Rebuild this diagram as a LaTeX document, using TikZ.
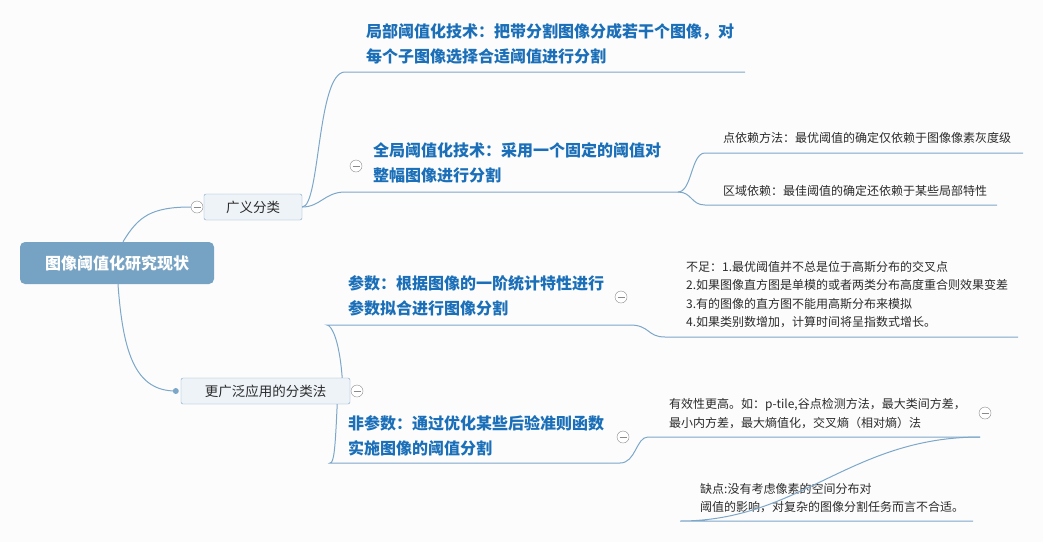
\documentclass[tikz,border=0pt]{standalone}
\usepackage{fontspec}
\setmainfont{Noto Sans CJK SC}
\usepackage{tikz}
\usetikzlibrary{positioning}

\definecolor{linecol}{HTML}{7DA7C9}
\definecolor{rootcol}{HTML}{76A3C3}
\definecolor{titlecol}{HTML}{1A6FB8}
\definecolor{boxfill}{HTML}{EEF3F8}
\definecolor{boxline}{HTML}{7FA6C6}
\definecolor{textcol}{HTML}{2B2B2B}
\definecolor{foldcol}{HTML}{8A8A8A}

\tikzset{
  rootnode/.style={rounded corners=5pt, fill=rootcol, text=white,
    font=\fontsize{16}{18}\selectfont\bfseries,
    minimum width=194pt, minimum height=42pt, inner sep=0pt},
  subnode/.style={rounded corners=2pt, draw=boxline, fill=boxfill, text=textcol,
    font=\fontsize{13.5}{15}\selectfont, minimum height=26pt, inner sep=0pt},
  topic/.style={text=titlecol, font=\fontsize{16}{25}\selectfont\bfseries,
    align=left, anchor=west, inner sep=0pt},
  note/.style={text=textcol, font=\fontsize{12}{18.5}\selectfont,
    align=left, anchor=west, inner sep=0pt},
  fold/.style={circle, draw=foldcol, fill=white, minimum size=12pt, inner sep=0pt,
    path picture={\draw[foldcol, line width=0.8pt]
      ([xshift=-3.5pt]path picture bounding box.center) --
      ([xshift=3.5pt]path picture bounding box.center);}},
  link/.style={draw=linecol, line width=1pt}
}

\begin{document}
\begin{tikzpicture}[x=1pt, y=-1pt]
  % page
  \fill[white!98!gray] (0,0) rectangle (1043,542);
  \useasboundingbox (0,0) rectangle (1043,542);

  % central topic and the two main branches
  \node[rootnode] (root) at (117,263) {图像阈值化研究现状};
  \node[subnode, minimum width=98pt] (wide) at (253,207) {广义分类};
  \node[subnode, minimum width=169pt] (apply) at (265.5,391) {更广泛应用的分类法};

  % topics
  \node[topic] (local) at (366,43.5) {局部阈值化技术：把带分割图像分成若干个图像，对\\每个子图像选择合适阈值进行分割};
  \node[topic] (global) at (373,162.5) {全局阈值化技术：采用一个固定的阈值对\\整幅图像进行分割};
  \node[topic] (param) at (348,295.5) {参数：根据图像的一阶统计特性进行\\参数拟合进行图像分割};
  \node[topic] (nonparam) at (348,435.5) {非参数：通过优化某些后验准则函数\\实施图像的阈值分割};

  % notes
  \node[note] (point) at (723,138) {点依赖方法：最优阈值的确定仅依赖于图像像素灰度级};
  \node[note] (region) at (723,191) {区域依赖：最佳阈值的确定还依赖于某些局部特性};
  \node[note] (lack) at (686,294.5) {不足：1.最优阈值并不总是位于高斯分布的交叉点\\2.如果图像直方图是单模的或者两类分布高度重合则效果变差\\3.有的图像的直方图不能用高斯分布来模拟\\4.如果类别数增加，计算时间将呈指数式增长。};
  \node[note, font=\fontsize{12}{19}\selectfont] (effect) at (669,413.5) {有效性更高。如：p-tile,谷点检测方法，最大类间方差，\\最小内方差，最大熵值化，交叉熵（相对熵）法};
  \node[note, font=\fontsize{12}{18}\selectfont] (flaw) at (700,498) {缺点:没有考虑像素的空间分布对\\阈值的影响，对复杂的图像分割任务而言不合适。};

  % underline ends
  \coordinate (localA) at (345,72);    \coordinate (localB) at (745,72);
  \coordinate (globalA) at (345,192);  \coordinate (globalB) at (678,192);
  \coordinate (pointA) at (705,153);   \coordinate (pointB) at (1023,153);
  \coordinate (regionA) at (705,205);  \coordinate (regionB) at (997,205);
  \coordinate (paramA) at (327,325);   \coordinate (paramB) at (630,325);
  \coordinate (lackA) at (665,337);    \coordinate (lackB) at (1018,337);
  \coordinate (nonA) at (330,463);     \coordinate (nonB) at (620,463);
  \coordinate (effA) at (648,437);     \coordinate (effB) at (980,437);
  \coordinate (flawA) at (680,521);    \coordinate (flawB) at (973,521);

  % fold markers
  \node[fold] (foldwide) at (197,207) {};
  \node[fold] (foldapply) at (357,391) {};
  \node[fold] (foldglobal) at (356,166) {};
  \node[fold] (foldparam) at (621,297) {};
  \node[fold] (foldnon) at (623,437) {};
  \node[fold] (foldeff) at (985,413) {};

  % root to branches
  \draw[link] ([xshift=6pt]root.north) .. controls +(15,-25) and +(-40,0) .. (foldwide.west);
  \draw[link] ([xshift=1pt]root.south) .. controls +(5,70) and +(-40,0) .. ([xshift=-5pt]apply.west);
  \fill[linecol] ([xshift=-5pt]apply.west) circle[radius=3pt];

  % upper branch
  \draw[link] (wide.east) .. controls +(18,0) and +(-28,0) .. (localA) -- (localB);
  \draw[link] (wide.east) .. controls +(18,0) and +(-20,0) .. (globalA) -- (globalB);
  \draw[link] (globalB) .. controls +(14,0) and +(-14,0) .. (pointA) -- (pointB);
  \draw[link] (globalB) .. controls +(14,0) and +(-14,0) .. (regionA) -- (regionB);

  % lower branch
  \draw[link] ([xshift=-8pt]apply.north east) .. controls +(-3,-40) and +(4,0) .. (paramA) -- (paramB);
  \draw[link] ([xshift=-13pt]apply.south east) .. controls +(-2,45) and +(4,0) .. (nonA) -- (nonB);
  \draw[link] (paramB) .. controls +(20,0) and +(-18,0) .. (lackA) -- (lackB);
  \draw[link] (nonB) .. controls +(16,0) and +(-12,0) .. (effA) -- (effB);
  \draw[link] (effB) .. controls +(-130,0) and +(120,0) .. (flawA) -- (flawB);
\end{tikzpicture}
\end{document}
